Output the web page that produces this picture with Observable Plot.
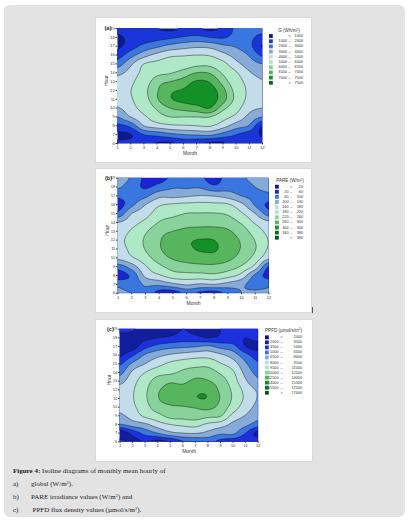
<!DOCTYPE html>
<html>
<head>
<meta charset="utf-8">
<script src="https://cdn.jsdelivr.net/npm/d3@7"></script>
<script src="https://cdn.jsdelivr.net/npm/@observablehq/plot@0.6"></script>
<style>
  html, body { margin: 0; padding: 0; background: #fff; }
  body { width: 412px; height: 524px; position: relative; overflow: hidden; font-family: "Liberation Sans", Arial, sans-serif; }
  #sheet { position: absolute; left: 4px; top: 5px; width: 401px; height: 512px; background: #e3e3e3; border-radius: 6px; }
  .panel { position: absolute; background: #fff; border: 1px solid #dadada; box-sizing: border-box; }
  .chart { position: absolute; }
  .chart svg { overflow: visible; }
  #overlay { position: absolute; left: 0; top: 0; }
  .caption { position: absolute; font-family: "Liberation Serif", "DejaVu Serif", serif; font-size: 7px; color: #1a1a1a; white-space: nowrap; line-height: 1; }
  .caption sup { font-size: 4.5px; vertical-align: 2px; }
</style>
</head>
<body>
<div id="sheet"></div>
<div class="panel" style="left:95px;top:17px;width:217px;height:146px"></div>
<div class="panel" style="left:95px;top:168px;width:217px;height:145px"></div>
<div class="panel" style="left:95px;top:319px;width:218px;height:143px"></div>
<div style="position:absolute;left:311.5px;top:307px;width:1px;height:6px;background:#555"></div>
<div id="charts"></div>
<svg id="overlay" width="412" height="524"></svg>

<div class="caption" style="left:13px;top:468px"><b>Figure 4:</b> Isoline diagrams of monthly mean hourly of</div>
<div class="caption" style="left:13px;top:481px">a)</div>
<div class="caption" style="left:31px;top:481px">global (W/m<sup>2</sup>).</div>
<div class="caption" style="left:13px;top:493.5px">b)</div>
<div class="caption" style="left:31px;top:493.5px">PARE irradiance values (W/m<sup>2</sup>) and</div>
<div class="caption" style="left:13px;top:506.5px">c)</div>
<div class="caption" style="left:32.5px;top:506.5px">PPFD flux density values (µmol/s/m<sup>2</sup>).</div>

<script>
// Axes
const months = [1, 2, 3, 4, 5, 6, 7, 8, 9, 10, 11, 12];
const hours = [6, 7, 8, 9, 10, 11, 12, 13, 14, 15, 16, 17, 18, 19];

// (a) Global irradiation G (Wh/m²): one row per hour (6 → 19), one value per month
const globalG = [
  [1200, 1300, 1200,  900,  800, 1200, 1100,  800,  850, 1500, 1400, 1300],
  [ 800,  950, 2000, 2300, 2700, 3000, 3100, 3200, 2600, 2000, 1500,  900],
  [1700, 2300, 4000, 4500, 4800, 4900, 5000, 5100, 4400, 3500, 2900,  950],
  [3000, 4000, 4800, 5600, 6000, 6000, 6000, 6000, 5400, 4700, 3700, 3000],
  [3900, 4600, 5400, 6100, 6500, 6650, 6800, 7000, 6200, 5400, 4300, 4000],
  [4500, 4900, 5700, 6450, 6950, 7150, 7300, 7300, 6700, 5800, 4700, 4400],
  [4700, 4980, 5800, 6450, 6900, 7050, 7350, 7250, 6650, 5750, 4800, 4500],
  [4400, 4800, 5600, 6300, 6500, 6700, 7050, 6950, 6300, 5500, 4600, 4100],
  [3700, 4400, 5300, 5800, 5950, 6200, 6500, 6450, 5900, 5100, 4100, 3600],
  [2500, 3800, 5000, 5300, 5500, 5600, 5800, 5800, 5300, 4300, 3500, 3000],
  [1500, 2600, 3600, 4300, 4800, 4900, 5000, 4900, 4300, 3600, 2900, 1800],
  [ 800, 1500, 2300, 2800, 3300, 3600, 3800, 3700, 3200, 2900, 2300,  900],
  [ 850, 1200, 1400, 1600, 1800, 2100, 2300, 2000, 1900, 2300, 2200, 1700],
  [1300, 1400, 1100, 1000,  800, 1100, 1100,  800, 1200, 2200, 2300, 2300]
];
const levelsG = [1000, 2000, 3000, 4000, 5000, 6000, 6500, 7000, 7500];
const coloursG = ["#0c1a8e", "#1934d8", "#3a76e0", "#86abd9", "#c3dcea", "#afe8c6", "#88d39c", "#56b55d", "#139026", "#0a6516"];

// (b) PARE irradiance (W/m²)
const pare = [
  [110, 100,  95,  40,  35,  70,  50,  40,  70, 100, 110, 110],
  [ 90,  80, 105, 110, 130, 145, 135, 140, 125, 110,  80,  90],
  [ 40,  70, 150, 175, 200, 205, 205, 210, 195, 165,  90,  45],
  [ 80, 120, 175, 210, 235, 245, 250, 250, 240, 215, 165,  55],
  [150, 175, 205, 240, 265, 275, 280, 285, 270, 245, 205, 150],
  [165, 190, 222, 255, 285, 292, 305, 305, 280, 257, 222, 175],
  [170, 195, 225, 255, 290, 295, 302, 300, 278, 255, 218, 178],
  [160, 185, 215, 245, 260, 270, 275, 275, 265, 240, 200, 170],
  [140, 165, 190, 222, 235, 245, 245, 245, 240, 215, 175, 150],
  [ 70, 140, 165, 200, 210, 221, 222, 222, 215, 185, 140,  80],
  [ 40,  90, 140, 175, 185, 190, 192, 190, 185, 150,  95,  50],
  [ 70,  75,  90, 130, 130, 135, 142, 138, 125, 100,  90,  90],
  [105,  80,  55,  75,  95,  95,  95,  70,  85,  85, 100, 110],
  [115,  95,  50,  45,  70,  85,  70,  40,  80,  95, 110, 115]
];
const levelsPARE = [20, 60, 100, 140, 180, 220, 260, 300, 340, 380];
const coloursPARE = ["#0c1a8e", "#1a24d6", "#3a76e0", "#86abd9", "#c3dcea", "#afe8c6", "#88d39c", "#56b55d", "#139026", "#0a6a16", "#06501a"];

// (c) PPFD flux density (µmol/s/m²)
const ppfd = [
  [ 4000,  3000,  3600,  3000,  3500,  4800,  5200,  5500,  4500,  4000,  3800,  4500],
  [ 2500,  4000,  5500,  6500,  7600,  8000,  8100,  7600,  6800,  6800,  5000,  3000],
  [ 6400,  7200,  7700,  8800,  9500,  9800, 10000,  9200,  8700,  7600,  6900,  5800],
  [ 7700,  8600,  9800, 10500, 11500, 11600, 11800, 11400, 11100,  9000,  7900,  7000],
  [ 8400,  9200, 10400, 11800, 12300, 12400, 12600, 12900, 12000, 10300,  8700,  7600],
  [ 8700,  9400, 10750, 12400, 13000, 13300, 13900, 13900, 12400, 10800,  9200,  7900],
  [ 8600,  9350, 10700, 12300, 12900, 13000, 13650, 13600, 12200, 10700,  9000,  7800],
  [ 7500,  9000, 10300, 11700, 12300, 12200, 12800, 12600, 11700, 10200,  8200,  6800],
  [ 6000,  8300,  9500, 10400, 10700, 11300, 11800, 11700, 10800,  9700,  7500,  6000],
  [ 4800,  6800,  8000,  9000,  9800, 10200, 10400, 10500,  9600,  8700,  6700,  5200],
  [ 3200,  4800,  6700,  7600,  8200,  8600,  8900,  8900,  8300,  7300,  5500,  4200],
  [ 2600,  2800,  4500,  5500,  6000,  6200,  6400,  6800,  6000,  5500,  3500,  3000],
  [ 3000,  3100,  3200,  3500,  3800,  4200,  4000,  3500,  3800,  4000,  3500,  4000],
  [ 3800,  3600,  3000,  2500,  2800,  3500,  3000,  2600,  3500,  3800,  4000,  4500]
];
const levelsPPFD = [2000, 3500, 5000, 6500, 8000, 9500, 11000, 12500, 14000, 15500, 17000];
const coloursPPFD = ["#0a1470", "#111f9c", "#1c30df", "#3a76e0", "#86abd9", "#c3dcea", "#afe8c6", "#88d39c", "#56b55d", "#1f8a2b", "#0c6c1a", "#084f16"];

// Smooth surface through the month × hour grid (Catmull–Rom in both directions)
function surface(grid) {
  const nx = grid[0].length, ny = grid.length;
  const at = (i, j) => grid[Math.max(0, Math.min(ny - 1, j))][Math.max(0, Math.min(nx - 1, i))];
  const cr = (p0, p1, p2, p3, t) =>
    p1 + 0.5 * t * (p2 - p0 + t * (2 * p0 - 5 * p1 + 4 * p2 - p3 + t * (3 * (p1 - p2) + p3 - p0)));
  return (month, hour) => {
    const u = Math.max(0, Math.min(nx - 1, month - months[0]));
    const v = Math.max(0, Math.min(ny - 1, hour - hours[0]));
    const i = Math.min(nx - 2, Math.floor(u)), j = Math.min(ny - 2, Math.floor(v));
    const tx = u - i, ty = v - j;
    const r = [-1, 0, 1, 2].map(d => cr(at(i - 1, j + d), at(i, j + d), at(i + 1, j + d), at(i + 2, j + d), tx));
    return cr(r[0], r[1], r[2], r[3], ty);
  };
}

const ink = "#333";

function isoplot({grid, levels, colours, tag, panel, frame}) {
  const width = panel.x2 - panel.x1, height = panel.y2 - panel.y1;
  const svg = Plot.plot({
    width, height,
    marginLeft: frame.x1 - panel.x1,
    marginRight: panel.x2 - frame.x2,
    marginTop: frame.y1 - panel.y1,
    marginBottom: panel.y2 - frame.y2,
    style: {background: "transparent", fontFamily: "'Liberation Sans', Arial, sans-serif", color: ink, overflow: "visible"},
    x: {domain: [1, 12]},
    y: {domain: [6, 19]},
    color: {type: "threshold", domain: levels, range: colours},
    marks: [
      Plot.frame({fill: colours[0]}),
      Plot.contour({
        fill: surface(grid),
        x1: 0.8, x2: 12.2, y1: 5.8, y2: 19.2,
        thresholds: levels,
        stroke: "#111",
        strokeWidth: 0.45,
        clip: true
      }),
      Plot.axisX({ticks: months, tickSize: 1.5, tickPadding: 1.2, fontSize: 4, label: null, stroke: ink}),
      Plot.axisY({ticks: hours, tickSize: 1.5, tickPadding: 1.2, fontSize: 4, label: null, stroke: ink}),
      Plot.text(["Month"], {frameAnchor: "bottom", dy: 11.5, fontSize: 5, fill: ink}),
      Plot.text(["Hour"], {frameAnchor: "left", dx: -11, rotate: -90, fontSize: 5, fill: ink}),
      Plot.text([tag], {frameAnchor: "top-left", dx: -13, dy: -2, fontSize: 5.5, fontWeight: "bold", fill: "#222"})
    ]
  });
  const holder = document.createElement("div");
  holder.className = "chart";
  holder.style.left = panel.x1 + "px";
  holder.style.top = panel.y1 + "px";
  holder.append(svg);
  document.getElementById("charts").append(holder);
}

isoplot({grid: globalG, levels: levelsG, colours: coloursG, tag: "(a)",
  panel: {x1: 95, x2: 312, y1: 17, y2: 163}, frame: {x1: 117, x2: 262, y1: 28, y2: 143}});
isoplot({grid: pare, levels: levelsPARE, colours: coloursPARE, tag: "(b)",
  panel: {x1: 95, x2: 312, y1: 168, y2: 313}, frame: {x1: 117.5, x2: 268.5, y1: 177.7, y2: 292.7}});
isoplot({grid: ppfd, levels: levelsPPFD, colours: coloursPPFD, tag: "(c)",
  panel: {x1: 95, x2: 313, y1: 319, y2: 462}, frame: {x1: 119.5, x2: 257.7, y1: 328.7, y2: 441.3}});

// Legends: one swatch per band, labelled with its range
function legend({title, levels, colours, x, titleX, titleY, y0, step, leftEdge, dashX, rightEdge}) {
  const g = d3.select("#overlay").append("g")
    .attr("font-family", "'Liberation Sans', Arial, sans-serif")
    .attr("fill", ink);
  g.append("text").attr("x", titleX).attr("y", titleY).attr("text-anchor", "middle")
    .attr("dominant-baseline", "middle").attr("font-size", 4.6).html(title);
  colours.forEach((c, i) => {
    const cy = y0 + i * step;
    g.append("rect").attr("x", x).attr("y", cy - 1.9).attr("width", 3.8).attr("height", 3.8).attr("fill", c);
    const row = g.append("g").attr("font-size", 3.8).attr("dominant-baseline", "middle");
    if (i === 0) {
      row.append("text").attr("x", dashX).attr("y", cy).attr("text-anchor", "middle").text("<");
      row.append("text").attr("x", rightEdge).attr("y", cy).attr("text-anchor", "end").text(levels[0]);
    } else if (i === colours.length - 1) {
      row.append("text").attr("x", dashX).attr("y", cy).attr("text-anchor", "middle").text(">");
      row.append("text").attr("x", rightEdge).attr("y", cy).attr("text-anchor", "end").text(levels[levels.length - 1]);
    } else {
      row.append("text").attr("x", leftEdge).attr("y", cy).attr("text-anchor", "end").text(levels[i - 1]);
      row.append("text").attr("x", dashX).attr("y", cy).attr("text-anchor", "middle").text("–");
      row.append("text").attr("x", rightEdge).attr("y", cy).attr("text-anchor", "end").text(levels[i]);
    }
  });
}

legend({title: "G (Wh/m<tspan font-size='3' dy='-1.5'>2</tspan><tspan dy='1.5'>)</tspan>", levels: levelsG, colours: coloursG,
  x: 269, titleX: 289, titleY: 31, y0: 36, step: 5.2, leftEdge: 287, dashX: 289.5, rightEdge: 303});
legend({title: "PARE (W/m<tspan font-size='3' dy='-1.5'>2</tspan><tspan dy='1.5'>)</tspan>", levels: levelsPARE, colours: coloursPARE,
  x: 275, titleX: 290, titleY: 181, y0: 186.7, step: 5.1, leftEdge: 288.5, dashX: 291, rightEdge: 303});
legend({title: "PPFD (µmol/s/m<tspan font-size='3' dy='-1.5'>2</tspan><tspan dy='1.5'>)</tspan>", levels: levelsPPFD, colours: coloursPPFD,
  x: 265, titleX: 283.5, titleY: 330.5, y0: 337.3, step: 5.04, leftEdge: 278.5, dashX: 281.5, rightEdge: 302});
</script>
</body>
</html>
